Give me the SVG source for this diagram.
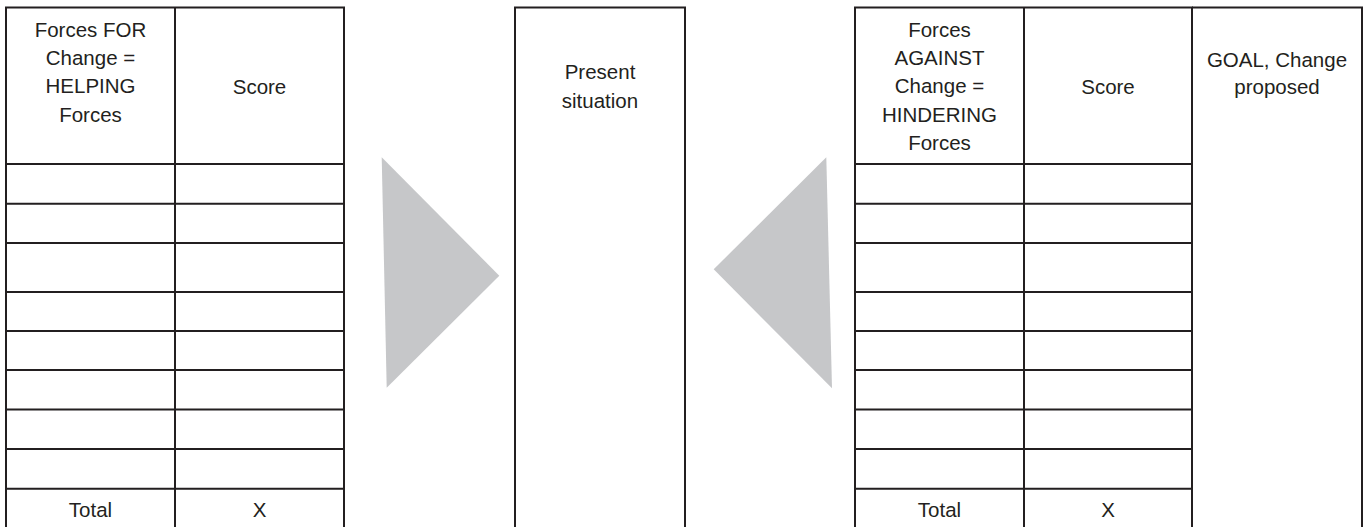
<svg xmlns="http://www.w3.org/2000/svg" width="1365" height="527" viewBox="0 0 1365 527">
<style>
.ln{stroke:#231f20;stroke-width:2;fill:none}
.t{font-family:"Liberation Sans",Arial,sans-serif;font-size:20.5px;fill:#231f20;text-anchor:middle}
.arr{fill:#c6c7c9;stroke:none}
</style>
<rect x="0" y="0" width="1365" height="527" fill="#ffffff"/>
<g id="helping-forces">
<path class="ln" d="M6,530 V7.5 H344 V530 M175,7.5 V530 M6,164 H344 M6,203.7 H344 M6,243 H344 M6,292 H344 M6,331 H344 M6,370 H344 M6,409.5 H344 M6,449 H344 M6,488.7 H344"/>
<text class="t" x="90.5" y="36.7">Forces FOR</text>
<text class="t" x="90.5" y="65">Change =</text>
<text class="t" x="90.5" y="93.3">HELPING</text>
<text class="t" x="90.5" y="121.6">Forces</text>
<text class="t" x="259.5" y="94">Score</text>
<text class="t" x="90.5" y="516.5">Total</text>
<text class="t" x="259.5" y="516.5">X</text>
</g>
<g id="present-situation">
<path class="ln" d="M515,530 V7.5 H685 V530"/>
<text class="t" x="600" y="79">Present</text>
<text class="t" x="600" y="107.5">situation</text>
</g>
<g id="hindering-forces">
<path class="ln" d="M855,530 V7.5 H1192 V530 M1024,7.5 V530 M855,164 H1192 M855,203.7 H1192 M855,243 H1192 M855,292 H1192 M855,331 H1192 M855,370 H1192 M855,409.5 H1192 M855,449 H1192 M855,488.7 H1192"/>
<text class="t" x="939.5" y="36.7">Forces</text>
<text class="t" x="939.5" y="65">AGAINST</text>
<text class="t" x="939.5" y="93.3">Change =</text>
<text class="t" x="939.5" y="121.6">HINDERING</text>
<text class="t" x="939.5" y="150">Forces</text>
<text class="t" x="1108" y="94">Score</text>
<text class="t" x="939.5" y="516.5">Total</text>
<text class="t" x="1108" y="516.5">X</text>
</g>
<g id="goal">
<path class="ln" d="M1192,7.5 H1362 V530"/>
<text class="t" x="1277" y="66.7">GOAL, Change</text>
<text class="t" x="1277" y="94.3">proposed</text>
</g>
<g id="connectors">
<polygon class="arr" points="381.7,157.3 499.3,275.7 386.7,387.7"/>
<polygon class="arr" points="826.3,157.3 713.7,269.3 832,388.3"/>
</g>
</svg>
